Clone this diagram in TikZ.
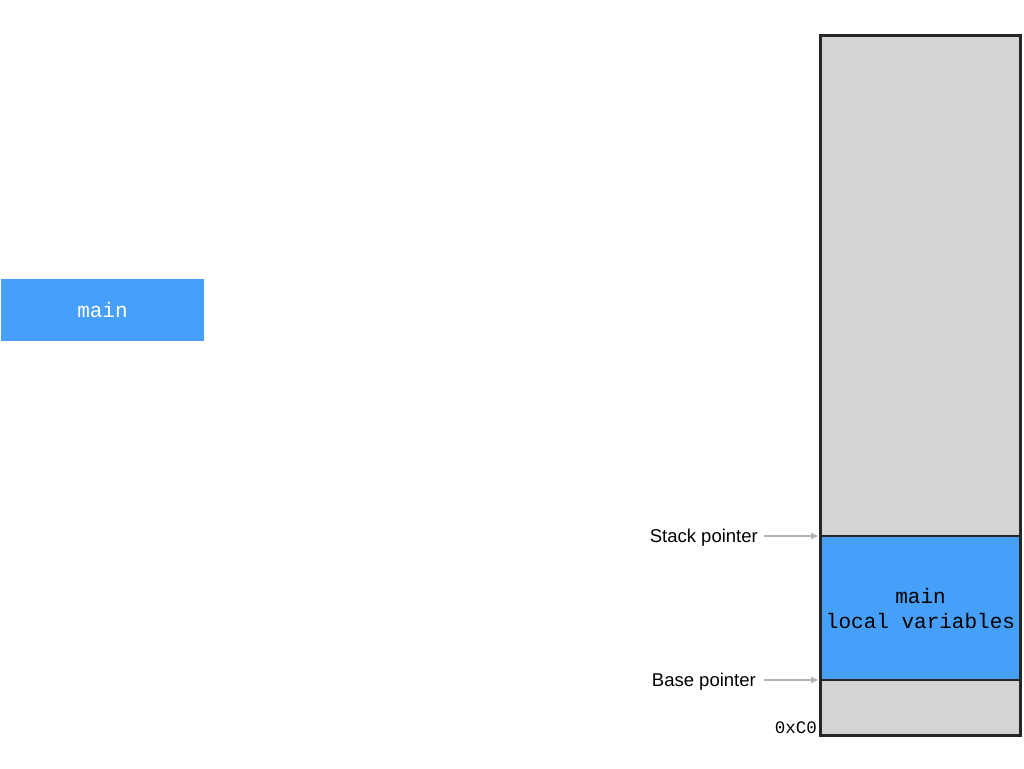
\documentclass[tikz,border=0pt]{standalone}
\usepackage{fontspec}
\setmainfont{Liberation Sans}
\newfontfamily\codefont{Liberation Mono}
\usetikzlibrary{arrows.meta}
\definecolor{frameblue}{HTML}{469FF8}
\definecolor{stackgray}{HTML}{D4D4D4}

\begin{document}
\begin{tikzpicture}[x=1pt, y=-1pt,
  code/.style={font=\codefont\fontsize{21}{25}\selectfont},
  framebox/.style={fill=frameblue, inner sep=0pt, outer sep=0pt, align=center, code},
  ptr/.style={font=\fontsize{18.5}{22}\selectfont, anchor=base east, inner sep=2pt},
  ptrarrow/.style={draw=black!30, line width=1.6pt, -{Triangle[length=7pt, width=6pt]}}]
\useasboundingbox (0,0) rectangle (1024,768);
%\draw[help lines, step=50] (0,0) grid (1024,768);

% Function box
\node[framebox, text=white, minimum width=203, minimum height=62] (mainbox) at (102.5,310) {\raisebox{-2pt}{main}};

% Stack
\node[fill=stackgray, inner sep=0pt, minimum width=199, minimum height=699] (stack) at (920.5,385.5) {};
\node[framebox, draw=black!85, line width=2pt, minimum width=199, minimum height=144] (mainframe) at (920.5,608) {main\\local variables};
\draw[black!85, line width=3pt] (stack.north west) rectangle (stack.south east);

\node[code, font=\codefont\fontsize{17.5}{20}\selectfont, anchor=base east, inner sep=1pt] (addr) at (818,733) {0xC0};

% Pointers
\node[ptr] (sp) at (760,542.5) {Stack pointer};
\node[ptr] (bp) at (758,686.5) {Base pointer};
\draw[ptrarrow, shorten <=4pt, shorten >=3pt] (sp.east |- mainframe.north west) -- (mainframe.north west);
\draw[ptrarrow, shorten <=6pt, shorten >=3pt] (bp.east |- mainframe.south west) -- (mainframe.south west);

\end{tikzpicture}
\end{document}
